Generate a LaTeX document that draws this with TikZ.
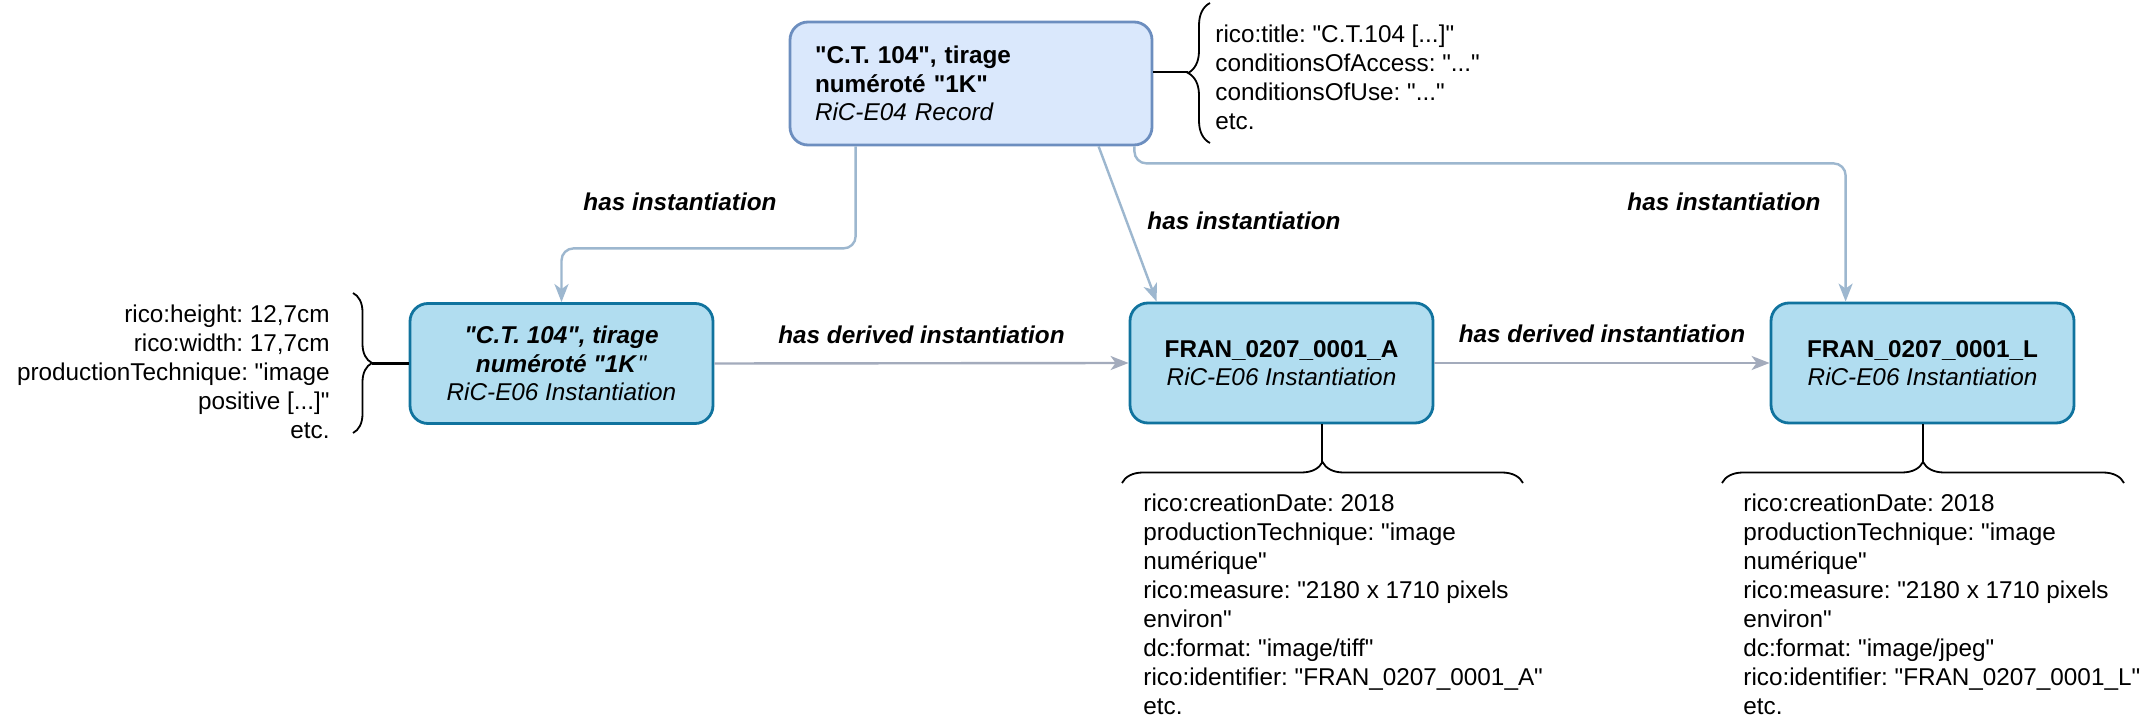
\documentclass[tikz,border=0pt]{standalone}
\usepackage{fontspec}
\setmainfont{Liberation Sans}[Ligatures=TeXOff]
\usetikzlibrary{arrows.meta,decorations.pathreplacing,calc}
\frenchspacing

\definecolor{recfill}{HTML}{DAE8FC}
\definecolor{recline}{HTML}{6C8EBF}
\definecolor{instfill}{HTML}{B1DDF0}
\definecolor{instline}{HTML}{10739E}
\definecolor{linkblue}{HTML}{9DB7CF}
\definecolor{linkgrey}{HTML}{A3ABBC}

\tikzset{
    every node/.style={font=\fontsize{12.15pt}{14.2pt}\selectfont},
    record/.style={draw=recline, fill=recfill, line width=1.4pt, rounded corners=9pt,
        minimum width=181pt, minimum height=61.5pt, text width=156pt,
        inner xsep=12.5pt, inner ysep=0pt, align=left},
    instance/.style={draw=instline, fill=instfill, line width=1.4pt, rounded corners=9pt,
        minimum width=151.5pt, minimum height=60pt, align=center},
    props/.style={inner sep=0pt, font=\fontsize{12.15pt}{14.5pt}\selectfont},
    rel/.style={font=\fontsize{12.15pt}{14.2pt}\selectfont\bfseries\itshape},
    link/.style={draw=linkblue, line width=1.2pt, rounded corners=6pt,
        -{Stealth[length=9pt,width=7pt,inset=2.5pt]}},
    derived/.style={link, draw=linkgrey},
    tie/.style={line width=1.4pt},
    curly/.style={decorate, decoration={brace, amplitude=#1}, line width=0.9pt},
}

\begin{document}
\begin{tikzpicture}[x=0.5pt, y=-0.5pt]
    \fill[white] (0,0) rectangle (2153,721);
    \useasboundingbox (0,0) rectangle (2153,721);

    % record and its instantiations
    \node[record] (rec) at (971,83.5) {\textbf{"C.T. 104", tirage}\\ \textbf{numéroté "1K"}\\ \textit{RiC-E04 Record}};
    \node[instance] (tirage) at (561.5,363.5) {\textbf{\textit{"C.T. 104", tirage}}\\ \textbf{\textit{numéroté "1K}}\textit{"}\\ \textit{RiC-E06 Instantiation}};
    \node[instance] (fileA) at (1281.5,363) {\textbf{FRAN\_0207\_0001\_A}\\ \textit{RiC-E06 Instantiation}};
    \node[instance] (fileL) at (1922.5,363) {\textbf{FRAN\_0207\_0001\_L}\\ \textit{RiC-E06 Instantiation}};

    % property lists
    \node[props, anchor=north west, align=left] (recprops) at (1215,24) {rico:title: "C.T.104 [...]"\\ conditionsOfAccess: "..."\\ conditionsOfUse: "..."\\ etc.};
    \node[props, anchor=north east, align=right] (tirprops) at (330,304) {rico:height: 12,7cm\\ rico:width: 17,7cm\\ productionTechnique: "image\\ positive [...]"\\ etc.};
    \node[props, anchor=north west, align=left] (aprops) at (1143,493) {rico:creationDate: 2018\\ productionTechnique: "image\\ numérique"\\ rico:measure: "2180 x 1710 pixels\\ environ"\\ dc:format: "image/tiff"\\ rico:identifier: "FRAN\_0207\_0001\_A"\\ etc.};
    \node[props, anchor=north west, align=left] (lprops) at (1743,493) {rico:creationDate: 2018\\ productionTechnique: "image\\ numérique"\\ rico:measure: "2180 x 1710 pixels\\ environ"\\ dc:format: "image/jpeg"\\ rico:identifier: "FRAN\_0207\_0001\_L"\\ etc.};

    % braces
    \draw[curly=11pt] (1210,143) -- (1210,3);
    \draw[curly=9.5pt] (353,293) -- (353,433);
    \draw[curly=10.5pt] (1122,483) -- (1523,483);
    \draw[curly=10.5pt] (1722,483) -- (2124,483);
    \coordinate (rectip) at (1188,72);
    \coordinate (tirtip) at (372,363.5);
    \coordinate (atip) at (1322,462);
    \coordinate (ltip) at (1923,462);

    \draw[tie] (rec.east |- rectip) -- (rectip);
    \draw[tie] (tirtip) -- (tirage.west);
    \draw[tie] (fileA.south -| atip) -- (atip);
    \draw[tie] (fileL.south -| ltip) -- (ltip);

    % has instantiation
    \draw[link] ($(rec.south west)+(67,0)$) -- ++(0,102) -| (tirage.north);
    \draw[link] ($(rec.south west)+(310,0)$) -- ($(fileA.north west)+(28,0)$);
    \draw[link] ($(rec.south east)+(-19,0)$) -- ++(0,17) -| ($(fileL.north west)+(76,0)$);
    \node[rel] (inst1) at (680,202) {has instantiation};
    \node[rel] (inst2) at (1244,221) {has instantiation};
    \node[rel] (inst3) at (1724,202) {has instantiation};

    % has derived instantiation
    \draw[derived] (tirage.east) -- (fileA.west) node[rel, midway, above=6pt] {has derived instantiation};
    \draw[derived] (fileA.east) -- (fileL.west) node[rel, midway, above=6pt] {has derived instantiation};
\end{tikzpicture}
\end{document}
